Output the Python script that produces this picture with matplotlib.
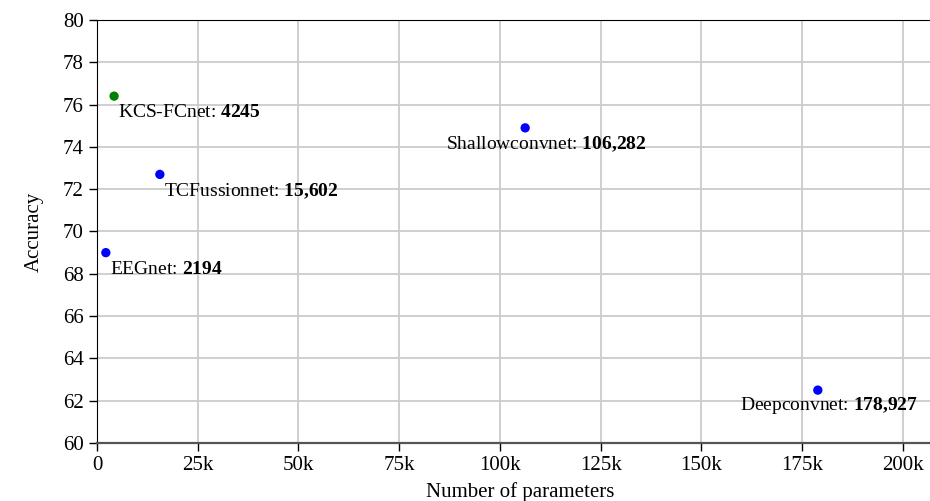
import matplotlib
matplotlib.use("Agg")
import matplotlib.pyplot as plt
from matplotlib.ticker import FuncFormatter

plt.rcParams['font.family'] = ['Liberation Serif', 'DejaVu Serif']
plt.rcParams['mathtext.fontset'] = 'custom'
plt.rcParams['mathtext.rm'] = 'Liberation Serif'
plt.rcParams['mathtext.bf'] = 'Liberation Serif:bold'

models = ["EEGnet", "KCS-FCnet", "TCFussionnet", "Shallowconvnet", "Deepconvnet"]
params = [2194, 4245, 15602, 106282, 178927]
accuracy = [69.0, 76.4, 72.7, 74.9, 62.5]
colors = ["#0000ff", "#008000", "#0000ff", "#0000ff", "#0000ff"]
param_text = ["2194", "4245", "15,602", "106,282", "178,927"]
# label offsets in points (dx, dy) relative to each marker
offsets = [(3, -12), (3, -12), (3, -12), (-57, -12), (-56, -11)]

fig = plt.figure(figsize=(9.30, 5.01), dpi=100)
ax = fig.add_axes([97 / 930, 58 / 501, 846 / 930, 423 / 501])

ax.grid(True, color="#cccccc", linewidth=1.3, zorder=0)
ax.set_axisbelow(True)

for x, y, c in zip(params, accuracy, colors):
    ax.scatter(x, y, s=45, color=c, zorder=3, edgecolors="none")

for name, x, y, t, (dx, dy) in zip(models, params, accuracy, param_text, offsets):
    ax.annotate(name + r": $\mathbf{" + t.replace(",", "{,}") + "}$",
                (x, y), xytext=(dx, dy), textcoords="offset points",
                fontsize=14, ha="left", va="center")

ax.set_xlim(0, 210000)
ax.set_ylim(60, 80)
ax.set_xticks(range(0, 200001, 25000))
ax.set_yticks(range(60, 81, 2))
ax.xaxis.set_major_formatter(FuncFormatter(lambda v, p: "0" if v == 0 else f"{int(v/1000)}k"))

ax.tick_params(axis="both", labelsize=15, length=6, width=1, direction="out")
ax.set_xlabel("Number of parameters", fontsize=15, labelpad=5)
ax.set_ylabel("Accuracy", fontsize=15, labelpad=14)

ax.spines["right"].set_visible(False)
ax.spines["left"].set_color("black")
ax.spines["top"].set_color("black")
ax.spines["bottom"].set_color("#555555")
ax.spines["bottom"].set_linewidth(1.6)

fig.savefig("out.png", dpi=100)
